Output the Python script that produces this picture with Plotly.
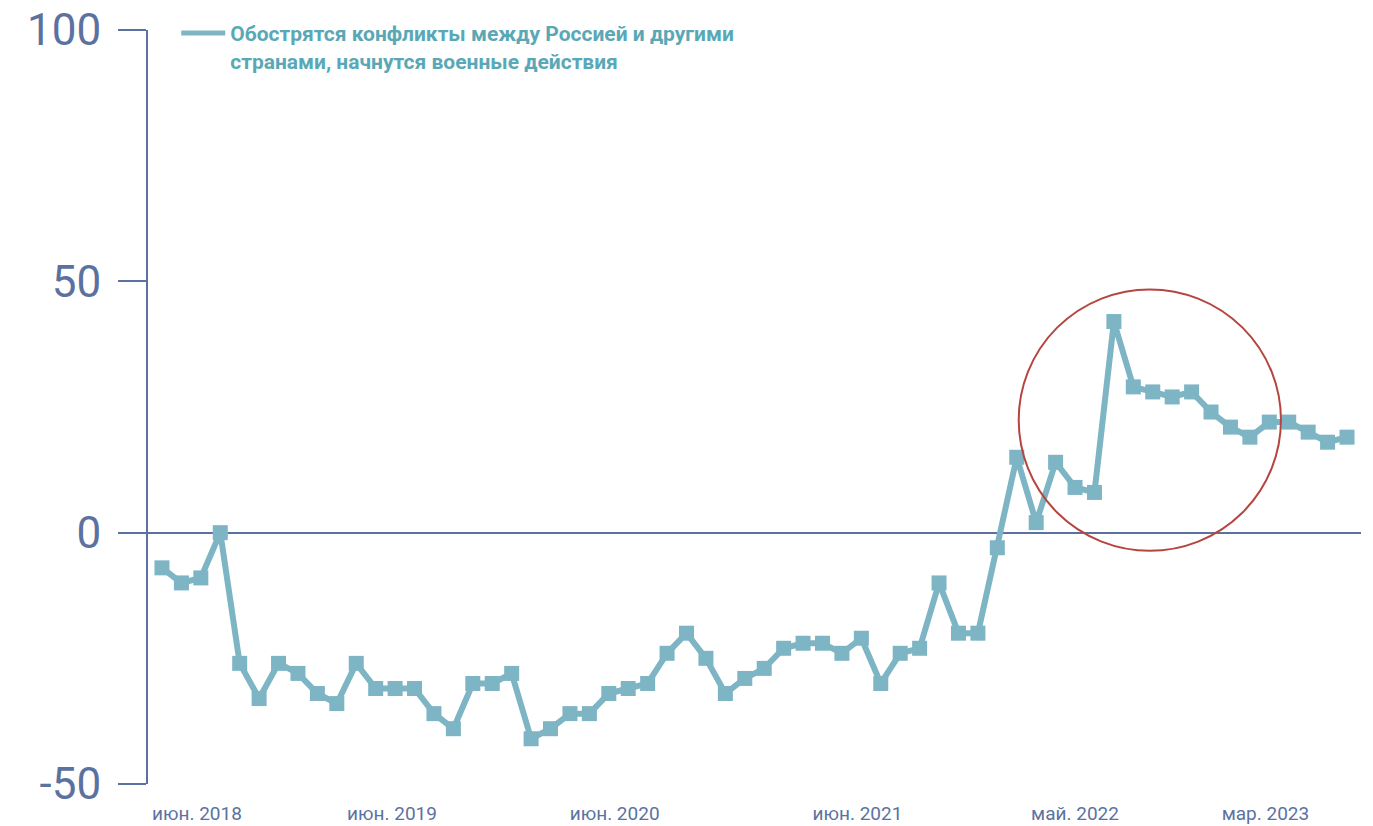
import plotly.graph_objects as go

# survey values, in order (one per wave)
values = [-7, -10, -9, 0, -26, -33, -26, -28, -32, -34,
          -26, -31, -31, -31, -36, -39, -30, -30, -28, -41,
          -39, -36, -36, -32, -31, -30, -24, -20, -25, -32,
          -29, -27, -23, -22, -22, -24, -21, -30, -24, -23,
          -10, -20, -20, -3, 15, 2, 14, 9, 8, 42,
          29, 28, 27, 28, 24, 21, 19, 22, 22, 20,
          18, 19]
waves = list(range(len(values)))

tick_pos = [1.8, 11.84, 23.3, 35.8, 47.0, 56.8]
tick_text = ["июн. 2018", "июн. 2019", "июн. 2020", "июн. 2021", "май. 2022", "мар. 2023"]
y_ticks = [-50, 0, 50, 100]
y_text = ["-50", "0", "50", "100"]

series_name = "Обострятся конфликты между Россией и другими<br>странами, начнутся военные действия"

axis_col = "#5b72a0"
line_col = "#7db5c4"

fig = go.Figure()
fig.add_trace(go.Scatter(
    x=waves, y=values, mode="lines+markers",
    line=dict(color=line_col, width=6),
    marker=dict(symbol="square", size=15, color=line_col),
    showlegend=False, hoverinfo="y"
))
# legend entry: line only
fig.add_trace(go.Scatter(
    x=[None], y=[None], mode="lines", name=series_name,
    line=dict(color=line_col, width=5)
))

# highlight circle
fig.add_shape(type="circle", xref="x", yref="y",
              x0=44.1, x1=57.6, y0=-3.6, y1=48.4,
              line=dict(color="#b5463f", width=2))

fig.update_layout(
    width=1373, height=826,
    margin=dict(l=148, r=12, t=30, b=42, autoexpand=False),
    plot_bgcolor="white", paper_bgcolor="white",
    font=dict(family="Roboto", color=axis_col),
    legend=dict(x=0.0233, y=1.0227, xanchor="left", yanchor="top",
                valign="top", itemwidth=44, bgcolor="rgba(0,0,0,0)",
                font=dict(size=21, color="#5aa8b6", weight="bold")),
    xaxis=dict(range=[-0.72, 61.72], showgrid=False, zeroline=False,
               showline=False, tickvals=tick_pos, ticktext=tick_text,
               tickfont=dict(size=19, color=axis_col), ticks="",
               ticklabelstandoff=16, automargin=False),
    yaxis=dict(range=[-50, 100], tickvals=y_ticks, ticktext=y_text,
               showgrid=False, showline=True, linecolor=axis_col, linewidth=2,
               zeroline=True, zerolinecolor=axis_col, zerolinewidth=2,
               ticks="outside", ticklen=28, tickwidth=2, tickcolor=axis_col,
               tickfont=dict(size=44, color=axis_col),
               ticklabelstandoff=8, ticklabeloverflow="allow",
               automargin=False),
)

# drop the default 8px body margin so the figure sits at the page corner
fig.write_html("out.html", config={"displayModeBar": False},
               post_script="document.body.style.margin='0';")
